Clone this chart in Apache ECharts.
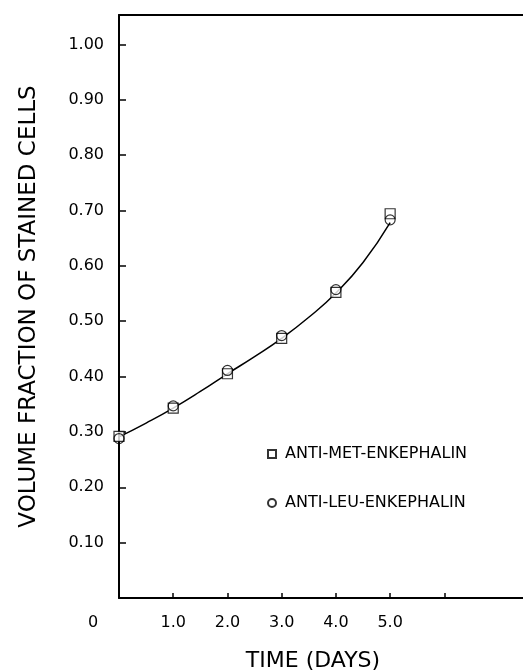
<!DOCTYPE html>
<html>
<head>
<meta charset="utf-8">
<script src="https://cdn.jsdelivr.net/npm/echarts@6/dist/echarts.min.js"></script>
<style>
  html, body { margin: 0; padding: 0; background: #fff; }
  #main { width: 523px; height: 670px; }
</style>
</head>
<body>
<div id="main"></div>
<script>
// data
var days = [0, 1, 2, 3, 4, 5];
var metEnk = [0.292, 0.343, 0.405, 0.469, 0.552, 0.694];
var leuEnk = [0.288, 0.347, 0.411, 0.474, 0.557, 0.683];

// fitted curve
var curveX = [0, 0.5, 1, 1.5, 2, 2.5, 3, 3.5, 4, 4.5, 5];
var curveY = [0.291, 0.316, 0.343, 0.373, 0.405, 0.436, 0.469, 0.507, 0.551, 0.606, 0.678];

// axis ticks and labels
var xTicks = [1, 2, 3, 4, 5, 6];
var xLabelValues = [0, 1, 2, 3, 4, 5];
var yTicks = [0.1, 0.2, 0.3, 0.4, 0.5, 0.6, 0.7, 0.8, 0.9, 1.0];

var seriesNames = ['ANTI-MET-ENKEPHALIN', 'ANTI-LEU-ENKEPHALIN'];

function pairs(xs, ys) {
    return xs.map(function (x, i) { return [x, ys[i]]; });
}

var font = 'DejaVu Sans';

var myChart = echarts.init(document.getElementById('main'));

var option = {
    animation: false,
    backgroundColor: '#fff',
    title: {
        text: 'TIME (DAYS)',
        left: 308,
        top: 645,
        textAlign: 'center',
        textStyle: { fontFamily: font, fontSize: 22, fontWeight: 'normal', color: '#000' }
    },
    grid: {
        left: 119,
        top: 15,
        right: 0,
        bottom: 72
    },
    legend: {
        orient: 'vertical',
        left: 267,
        top: 446,
        padding: 0,
        itemGap: 33,
        itemWidth: 8,
        itemHeight: 8,
        data: seriesNames,
        textStyle: { fontFamily: font, fontSize: 16, color: '#000', padding: [0, 0, 0, 4] }
    },
    xAxis: [
        {
            type: 'value',
            min: 0,
            max: 7.45,
            splitLine: { show: false },
            axisLine: { lineStyle: { color: '#000', width: 2 } },
            axisTick: {
                inside: true,
                length: 5,
                customValues: xTicks,
                lineStyle: { color: '#000', width: 1.5 }
            },
            axisLabel: {
                customValues: xLabelValues,
                margin: 17,
                fontFamily: font,
                fontSize: 16,
                color: '#000',
                formatter: function (v) {
                    if (v === 0) return '{z|0}';
                    return v.toFixed(1);
                },
                rich: {
                    z: { fontFamily: font, fontSize: 16, color: '#000', padding: [0, 52, 0, 0] }
                }
            }
        },
        {
            // top frame line only
            type: 'value',
            position: 'top',
            min: 0,
            max: 7.45,
            splitLine: { show: false },
            axisLine: { onZero: false, lineStyle: { color: '#000', width: 2 } },
            axisTick: { show: false },
            axisLabel: { show: false }
        }
    ],
    yAxis: {
        type: 'value',
        min: 0,
        max: 1.053,
        name: 'VOLUME FRACTION OF STAINED CELLS',
        nameLocation: 'middle',
        nameGap: 78,
        nameTextStyle: { fontFamily: font, fontSize: 23, color: '#000' },
        splitLine: { show: false },
        axisLine: { lineStyle: { color: '#000', width: 2 } },
        axisTick: {
            inside: true,
            length: 7,
            customValues: yTicks,
            lineStyle: { color: '#000', width: 1.5 }
        },
        axisLabel: {
            customValues: yTicks,
            margin: 15,
            fontFamily: font,
            fontSize: 16,
            color: '#000',
            formatter: function (v) { return v.toFixed(2); }
        }
    },
    series: [
        {
            name: 'curve',
            type: 'line',
            data: pairs(curveX, curveY),
            smooth: true,
            showSymbol: false,
            lineStyle: { color: '#000', width: 1.5 },
            z: 1
        },
        {
            name: seriesNames[0],
            type: 'scatter',
            symbol: 'rect',
            symbolSize: 10,
            data: pairs(days, metEnk),
            itemStyle: { color: '#fff', borderColor: '#000', borderWidth: 1.2 },
            z: 2
        },
        {
            name: seriesNames[1],
            type: 'scatter',
            symbol: 'circle',
            symbolSize: 10,
            data: pairs(days, leuEnk),
            itemStyle: { color: 'rgba(255,255,255,0)', borderColor: '#000', borderWidth: 1.2 },
            z: 3
        }
    ]
};

myChart.setOption(option);
</script>
</body>
</html>
